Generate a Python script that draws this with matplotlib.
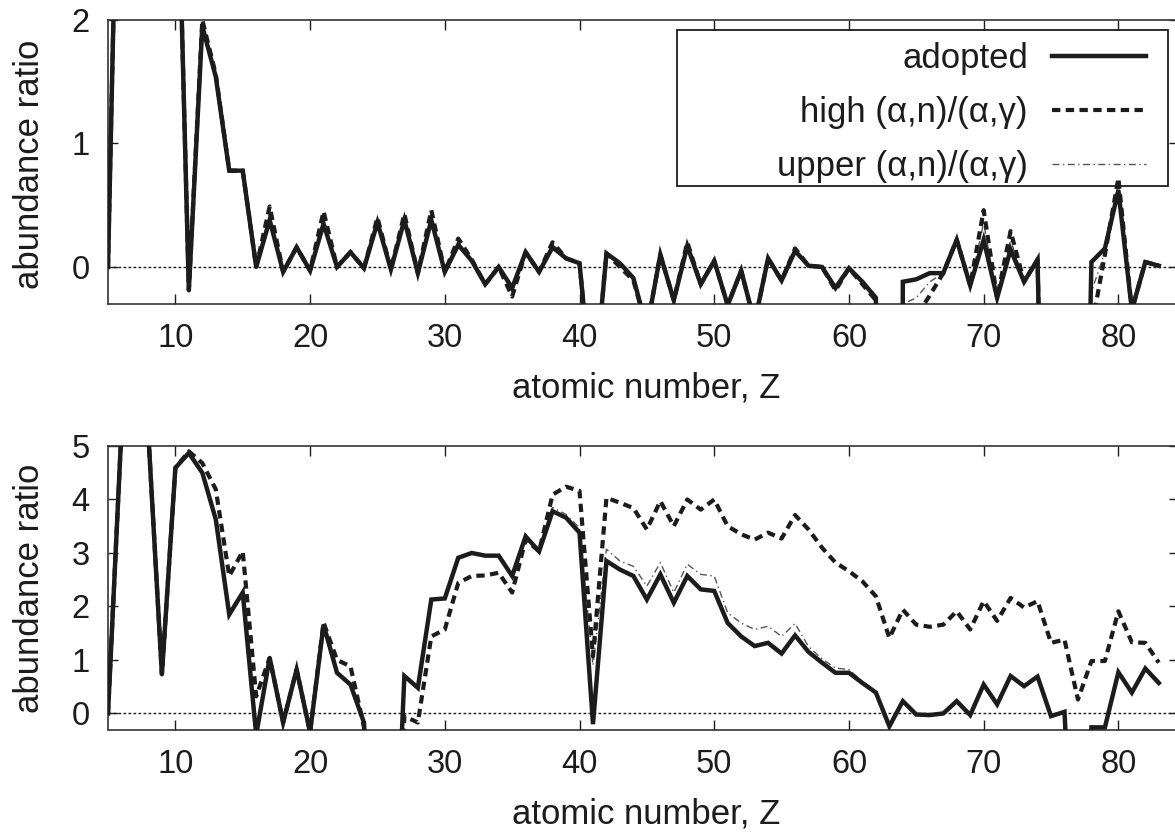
import numpy as np
import matplotlib
matplotlib.use("Agg")
import matplotlib.pyplot as plt
from matplotlib.lines import Line2D
from matplotlib.patches import Rectangle

plt.rcParams['font.family'] = ['Liberation Sans', 'DejaVu Sans']

nan = float('nan')
Z = list(range(5, 84))

top_adopted = [0.0, 5.0, nan, 12.0, 8.0, 4.0, -0.19, 1.95, 1.54, 0.78,
               0.78, 0.0, 0.38, -0.04, 0.16, -0.03, 0.35, 0.0, 0.12, -0.01,
               0.36, -0.02, 0.38, -0.05, 0.38, -0.04, 0.18, 0.05, -0.14, 0.0,
               -0.17, 0.12, -0.04, 0.16, 0.07, 0.03, -1.1, 0.11, 0.03, -0.09,
               -0.5, 0.10, -0.27, 0.17, -0.14, 0.05, -0.31, -0.03, -0.45, 0.07,
               -0.11, 0.13, 0.01, 0.0, -0.17, -0.01, -0.12, -0.25, -30.0, -0.12,
               -0.10, -0.05, -0.05, 0.22, -0.15, 0.22, -0.25, 0.14, -0.12, 0.06,
               -5.0, -5.0, -5.0, 0.04, 0.15, 0.62, -0.35, 0.04, 0.01]
top_high = [0.0, 5.0, nan, 12.0, 8.0, 4.0, -0.19, 2.0, 1.56, 0.78,
            0.78, 0.0, 0.49, -0.04, 0.16, -0.03, 0.45, 0.0, 0.12, -0.01,
            0.40, -0.02, 0.43, -0.05, 0.46, -0.04, 0.23, 0.06, -0.14, 0.0,
            -0.24, 0.12, -0.04, 0.20, 0.07, 0.03, -1.1, 0.11, 0.0, -0.11,
            -0.5, 0.10, -0.27, 0.20, -0.14, 0.05, -0.31, -0.03, -0.45, 0.07,
            -0.11, 0.15, 0.01, 0.0, -0.19, -0.01, -0.14, -0.27, -30.0, -0.6,
            -0.40, -0.23, -0.05, 0.22, -0.15, 0.46, -0.25, 0.29, -0.12, 0.06,
            -5.0, -5.0, -5.0, -0.5, 0.10, 0.72, -0.35, 0.04, 0.01]
top_upper = [0.0, 5.0, nan, 12.0, 8.0, 4.0, -0.19, 1.97, 1.55, 0.78,
             0.78, 0.0, 0.44, -0.04, 0.16, -0.03, 0.40, 0.0, 0.12, -0.01,
             0.38, -0.02, 0.40, -0.05, 0.42, -0.04, 0.20, 0.05, -0.14, 0.0,
             -0.20, 0.12, -0.04, 0.18, 0.07, 0.03, -1.1, 0.11, 0.02, -0.10,
             -0.5, 0.10, -0.27, 0.18, -0.14, 0.05, -0.31, -0.03, -0.45, 0.07,
             -0.11, 0.14, 0.01, 0.0, -0.18, -0.01, -0.13, -0.26, -30.0, -0.3,
             -0.25, -0.12, -0.05, 0.22, -0.15, 0.36, -0.25, 0.22, -0.12, 0.06,
             -5.0, -5.0, -5.0, -0.2, 0.12, 0.68, -0.35, 0.04, 0.01]

bot_adopted = [0.0, 5.3, nan, 5.2, 0.73, 4.59, 4.87, 4.50, 3.63, 1.85,
               2.26, -0.40, 1.04, -0.17, 0.82, -0.35, 1.66, 0.76, 0.54, -0.17,
               -5.0, -5.0, 0.70, 0.48, 2.13, 2.15, 2.91, 3.00, 2.95, 2.95,
               2.57, 3.31, 3.03, 3.78, 3.66, 3.38, -0.20, 2.85, 2.69, 2.57,
               2.13, 2.60, 2.07, 2.57, 2.32, 2.29, 1.69, 1.44, 1.26, 1.32,
               1.12, 1.46, 1.15, 0.95, 0.76, 0.76, 0.57, 0.39, -0.24, 0.23,
               -0.02, -0.03, 0.0, 0.23, -0.03, 0.54, 0.17, 0.70, 0.51, 0.69,
               -0.05, 0.03, -5.0, -0.26, -0.26, 0.77, 0.39, 0.84, 0.57]
bot_high = [0.0, 5.3, nan, 5.2, 0.73, 4.59, 4.90, 4.68, 4.19, 2.57,
            3.03, 0.32, 1.04, -0.17, 0.82, -0.35, 1.70, 1.00, 0.88, -0.25,
            -5.0, -5.0, -0.05, -0.17, 1.44, 1.57, 2.44, 2.57, 2.58, 2.63,
            2.26, 3.25, 3.03, 4.09, 4.24, 4.16, 1.07, 4.03, 3.94, 3.84,
            3.44, 3.97, 3.50, 4.00, 3.81, 4.00, 3.50, 3.35, 3.25, 3.38,
            3.27, 3.71, 3.44, 3.10, 2.82, 2.66, 2.47, 2.19, 1.41, 1.94,
            1.66, 1.62, 1.66, 1.91, 1.57, 2.10, 1.73, 2.16, 1.98, 2.10,
            1.32, 1.38, 0.26, 0.98, 0.98, 1.91, 1.33, 1.32, 0.95]
bot_upper = [0.0, 5.3, nan, 5.2, 0.73, 4.59, 4.87, 4.50, 3.63, 1.85,
             2.26, -0.40, 1.04, -0.17, 0.82, -0.35, 1.66, 0.76, 0.54, -0.17,
             -5.0, -5.0, 0.70, 0.48, 2.13, 2.15, 2.91, 3.00, 2.95, 2.95,
             2.57, 3.31, 3.03, 3.85, 3.72, 3.47, 0.90, 3.07, 2.85, 2.75,
             2.38, 2.82, 2.26, 2.79, 2.60, 2.57, 1.88, 1.69, 1.57, 1.63,
             1.44, 1.68, 1.25, 1.02, 0.85, 0.82, 0.60, 0.41, -0.24, 0.23,
             -0.02, -0.03, 0.0, 0.23, -0.03, 0.54, 0.17, 0.70, 0.51, 0.69,
             -0.05, 0.03, -5.0, -0.26, -0.26, 0.77, 0.39, 0.84, 0.57]

labels = ['adopted', 'high (α,n)/(α,γ)', 'upper (α,n)/(α,γ)']
xlabel = 'atomic number, Z'
ylabel = 'abundance ratio'

W, H = 1175, 832
fig = plt.figure(figsize=(W / 100, H / 100), dpi=100)

def px_axes(l, t, r, b):
    return [l / W, 1 - b / H, (r - l) / W, (b - t) / H]

ink = '#1c1c1c'
FS_TICK = 23.5
FS_LAB = 25

styles = [
    dict(color=ink, lw=3.2, ls='-', solid_joinstyle='miter'),
    dict(color=ink, lw=3.0, dashes=(2.0, 1.3)),
    dict(color='#555555', lw=1.0, dashes=(5, 2.5, 1, 2.5)),
]

def setup(ax, ylim, yticks):
    ax.set_xlim(5, 84.5)
    ax.set_ylim(*ylim)
    ax.set_xticks([10, 20, 30, 40, 50, 60, 70, 80])
    ax.set_yticks(yticks)
    ax.tick_params(direction='in', length=7.5, width=1.0, colors=ink,
                   top=True, right=True, labelsize=FS_TICK, pad=14)
    ax.tick_params(axis='y', pad=13)
    for s in ax.spines.values():
        s.set_linewidth(1.2)
        s.set_color('#333333')
    ax.axhline(0, color=ink, lw=1.0, dashes=(2, 1.6), zorder=1)

# top panel
ax1 = fig.add_axes(px_axes(108, 20, 1179, 304))
setup(ax1, (-0.3, 2.0), [0, 1, 2])
ax1.plot(Z, top_upper, **styles[2], zorder=2)
ax1.plot(Z, top_high, **styles[1], zorder=3)
ax1.plot(Z, top_adopted, **styles[0], zorder=4)

# bottom panel
ax2 = fig.add_axes(px_axes(108, 446, 1179, 729.5))
setup(ax2, (-0.3, 5.0), [0, 1, 2, 3, 4, 5])
ax2.plot(Z, bot_upper, **styles[2], zorder=2)
ax2.plot(Z, bot_high, **styles[1], zorder=3)
ax2.plot(Z, bot_adopted, **styles[0], zorder=4)

for yc in (164, 588):
    fig.text(30 / W, 1 - yc / H, ylabel, rotation=90, ha='center', va='center',
             fontsize=FS_LAB, color=ink)
for yc in (388, 814):
    fig.text(646 / W, 1 - yc / H, xlabel, ha='center', va='center',
             fontsize=FS_LAB, color=ink)

# legend frame
fig.add_artist(Rectangle((677 / W, 1 - 186 / H), (1168 - 677) / W, (186 - 30) / H,
                         transform=fig.transFigure, facecolor='none',
                         edgecolor=ink, lw=1.3, zorder=10))
handles = [Line2D([], [], **st) for st in styles]
leg = ax1.legend(handles, labels, loc='upper right',
                 bbox_to_anchor=(1146 / W, 1 - 42 / H), bbox_transform=fig.transFigure,
                 frameon=False, markerfirst=False, fontsize=FS_LAB,
                 handlelength=2.7, handletextpad=0.7, labelspacing=0.6,
                 borderpad=0.0, borderaxespad=0.0)
for t in leg.get_texts():
    t.set_color(ink)

fig.savefig('out.png', dpi=100)
